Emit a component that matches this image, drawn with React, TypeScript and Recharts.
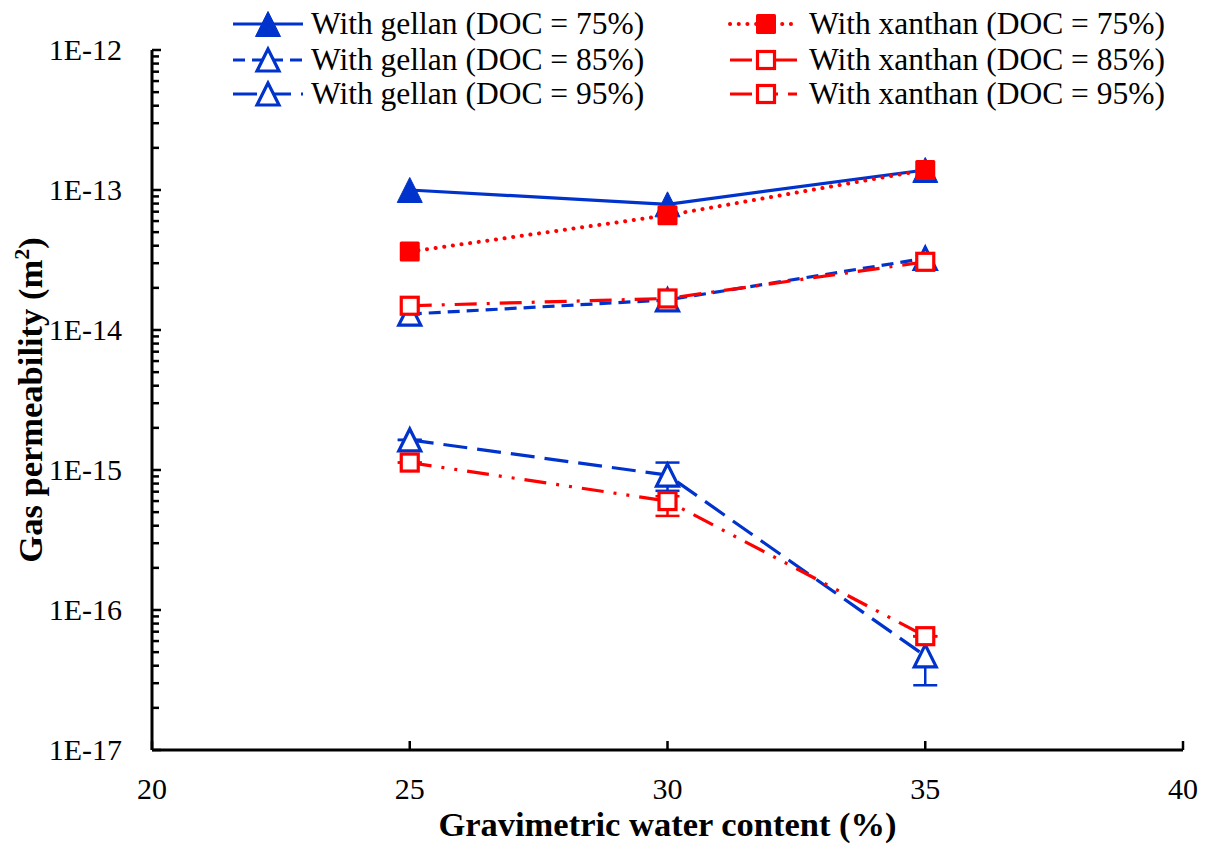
import { LineChart, Line, XAxis, YAxis, ErrorBar, Legend } from "recharts";

const waterContent = [25, 30, 35];
const gellan75 = [1.0e-13, 7.9e-14, 1.39e-13];
const gellan85 = [1.3e-14, 1.64e-14, 3.25e-14];
const gellan95 = [1.64e-15, 9.2e-16, 4.7e-17];
const xanthan75 = [3.63e-14, 6.6e-14, 1.39e-13];
const xanthan85 = [1.49e-14, 1.68e-14, 3.07e-14];
const xanthan95 = [1.13e-15, 6.0e-16, 6.5e-17];

// [minus, plus]
const gellan95Err = [[0, 0], [2.1e-16, 2.1e-16], [1.8e-17, 1.8e-17]];
const xanthan95Err = [[0, 0], [1.3e-16, 0.5e-16], [0, 0]];

const xTicks = [20, 25, 30, 35, 40];
const yMajorTicks = [1e-17, 1e-16, 1e-15, 1e-14, 1e-13, 1e-12];
const yTickLabels = ["1E-17", "1E-16", "1E-15", "1E-14", "1E-13", "1E-12"];
const yMinorSteps = [2, 3, 4, 5, 6, 7, 8, 9];

const yTicks = [
  ...yMajorTicks,
  ...yMajorTicks.slice(0, -1).flatMap((m) => yMinorSteps.map((s) => s * m)),
];

const data = waterContent.map((x, i) => ({
  x,
  g75: gellan75[i],
  g85: gellan85[i],
  g95: gellan95[i],
  x75: xanthan75[i],
  x85: xanthan85[i],
  x95: xanthan95[i],
  g95err: gellan95Err[i],
  x95err: xanthan95Err[i],
}));

const BLUE = "#0033CC";
const RED = "#FF0000";
const FONT = "Liberation Serif, DejaVu Serif, serif";

type Series = {
  key: string;
  name: string;
  color: string;
  dash?: string;
  cap?: "round" | "butt";
  shape: "triangle" | "square";
  filled: boolean;
  err?: string;
};

const series: Series[] = [
  { key: "g75", name: "With gellan (DOC = 75%)", color: BLUE, shape: "triangle", filled: true },
  { key: "g85", name: "With gellan (DOC = 85%)", color: BLUE, dash: "12 7", shape: "triangle", filled: false },
  { key: "g95", name: "With gellan (DOC = 95%)", color: BLUE, dash: "24 10", shape: "triangle", filled: false, err: "g95err" },
  { key: "x75", name: "With xanthan (DOC = 75%)", color: RED, dash: "0.1 8.6", cap: "round", shape: "square", filled: true },
  { key: "x85", name: "With xanthan (DOC = 85%)", color: RED, dash: "22 10 3 10", shape: "square", filled: false },
  { key: "x95", name: "With xanthan (DOC = 95%)", color: RED, dash: "22 10 3 10 3 10", shape: "square", filled: false, err: "x95err" },
];

function marker(s: Series, cx: number, cy: number, key?: string) {
  if (s.shape === "triangle") {
    const h = s.filled ? 12.5 : 11;
    const pts = `${cx},${cy - h} ${cx - h},${cy + h} ${cx + h},${cy + h}`;
    return (
      <polygon
        key={key}
        points={pts}
        fill={s.filled ? s.color : "#fff"}
        stroke={s.color}
        strokeWidth={s.filled ? 1 : 3.2}
        strokeLinejoin="miter"
      />
    );
  }
  const h = s.filled ? 10 : 8.5;
  return (
    <rect
      key={key}
      x={cx - h}
      y={cy - h}
      width={2 * h}
      height={2 * h}
      rx={s.filled ? 1.5 : 0}
      fill={s.filled ? s.color : "#fff"}
      stroke={s.color}
      strokeWidth={s.filled ? 0 : 3.2}
    />
  );
}

const XTick = (props: any) => {
  const { x, y, payload } = props;
  return (
    <g>
      <line x1={x} y1={y} x2={x} y2={y - 9} stroke="#000" strokeWidth={2.5} />
      <text x={x} y={y + 49} textAnchor="middle" style={{ fontFamily: FONT }} fontSize={30} fill="#000">
        {payload.value}
      </text>
    </g>
  );
};

const YTick = (props: any) => {
  const { x, y, payload } = props;
  const v = payload.value;
  const idx = yMajorTicks.findIndex((m) => Math.abs(m - v) / m < 1e-6);
  const major = idx >= 0;
  return (
    <g>
      <line x1={x} y1={y} x2={x + (major ? 9 : 7)} y2={y} stroke="#000" strokeWidth={2.5} />
      {major && (
        <text x={x - 30} y={y + 10} textAnchor="end" style={{ fontFamily: FONT }} fontSize={30} fill="#000">
          {yTickLabels[idx]}
        </text>
      )}
    </g>
  );
};

const XTitle = (props: any) => {
  const vb = props.viewBox || { x: 152, y: 750, width: 1031 };
  return (
    <text
      x={vb.x + vb.width / 2}
      y={vb.y + 86}
      textAnchor="middle"
      style={{ fontFamily: FONT }}
      fontWeight="bold"
      fontSize={34.5}
      fill="#000"
    >
      Gravimetric water content (%)
    </text>
  );
};

const YTitle = (props: any) => {
  const vb = props.viewBox || { y: 50, height: 700 };
  const cy = vb.y + vb.height / 2;
  return (
    <text
      x={42}
      y={cy}
      transform={`rotate(-90, 42, ${cy})`}
      textAnchor="middle"
      style={{ fontFamily: FONT }}
      fontWeight="bold"
      fontSize={34.5}
      fill="#000"
    >
      Gas permeability (m
      <tspan dy={-13} fontSize={22}>2</tspan>
      <tspan dy={13}>)</tspan>
    </text>
  );
};

const legendRows = [24, 60, 94];

const LegendContent = () => (
  <svg width={1211} height={115} style={{ display: "block" }}>
    {series.map((s, i) => {
      const col = i < 3 ? 0 : 1;
      const cy = legendRows[i % 3];
      const x1 = col === 0 ? 233 : 730;
      const x2 = col === 0 ? 303 : 797;
      const mx = col === 0 ? 268 : 766;
      const tx = col === 0 ? 311 : 809;
      return (
        <g key={s.key}>
          <line
            x1={x1}
            y1={cy}
            x2={x2}
            y2={cy}
            stroke={s.color}
            strokeWidth={s.cap === "round" ? 4 : 3.2}
            strokeDasharray={s.dash}
            strokeLinecap={s.cap || "butt"}
          />
          {marker(s, mx, cy)}
          <text x={tx} y={cy + 10} style={{ fontFamily: FONT }} fontSize={31.5} fill="#000">
            {s.name}
          </text>
        </g>
      );
    })}
  </svg>
);

export default function App() {
  return (
    <div style={{ position: "absolute", left: 0, top: 0, background: "#fff", fontFamily: FONT }}>
      <LineChart
        width={1211}
        height={846}
        data={data}
        margin={{ top: 50, right: 28, bottom: 0, left: 0 }}
      >
        <XAxis
          dataKey="x"
          type="number"
          domain={[20, 40]}
          ticks={xTicks}
          interval={0}
          tickSize={0}
          tickMargin={0}
          tickLine={false}
          axisLine={{ stroke: "#000", strokeWidth: 3 }}
          tick={(p: any) => <XTick {...p} />}
          height={96}
          label={<XTitle />}
        />
        <YAxis
          type="number"
          scale="log"
          domain={[1e-17, 1e-12]}
          allowDataOverflow
          ticks={yTicks}
          interval={0}
          tickSize={0}
          tickMargin={0}
          tickLine={false}
          axisLine={{ stroke: "#000", strokeWidth: 3 }}
          tick={(p: any) => <YTick {...p} />}
          width={152}
          label={<YTitle />}
        />
        <Legend
          layout="vertical"
          align="center"
          verticalAlign="middle"
          content={() => <LegendContent />}
          wrapperStyle={{ position: "absolute", top: 0, left: 0, width: 1211, height: 115 }}
        />
        {series.map((s) => (
          <Line
            key={s.key}
            dataKey={s.key}
            name={s.name}
            stroke={s.color}
            strokeWidth={s.cap === "round" ? 4 : 3.2}
            strokeDasharray={s.dash}
            strokeLinecap={s.cap || "butt"}
            isAnimationActive={false}
            activeDot={false}
            dot={(p: any) => marker(s, p.cx, p.cy, `${s.key}-${p.index}`)}
          >
            {s.err && (
              <ErrorBar
                dataKey={s.err}
                direction="y"
                width={12}
                stroke={s.color}
                strokeWidth={2.5}
                isAnimationActive={false}
              />
            )}
          </Line>
        ))}
      </LineChart>
    </div>
  );
}
